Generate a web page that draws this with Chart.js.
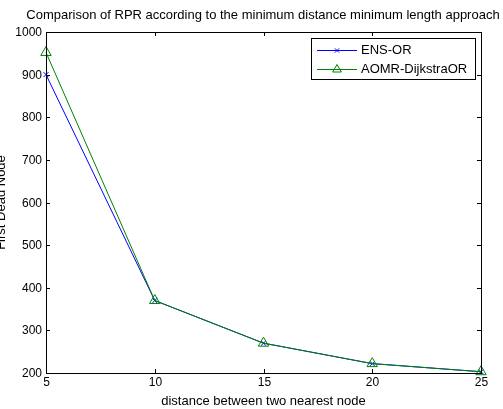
<!DOCTYPE html>
<html lang="en">
<head>
    <meta charset="UTF-8">
    <title>Comparison of RPR</title>
    <script src="https://cdn.jsdelivr.net/npm/chart.js"></script>
    <style>
        html, body { margin: 0; padding: 0; background: #fff; }
        #wrap { position: relative; width: 503px; height: 409px; }
    </style>
</head>
<body>
    <div id="wrap"><canvas id="chart" width="503" height="409"></canvas></div>

    <script>
        // data
        const distances = [5, 10, 15, 20, 25];
        const ensOr = [900, 370, 270, 222, 203];
        const aomrDijkstraOr = [952, 370, 270, 222, 203];
        const xTicks = [5, 10, 15, 20, 25];
        const yTicks = [200, 300, 400, 500, 600, 700, 800, 900, 1000];

        const titleText = 'Comparison of RPR according to the minimum distance minimum length approach';
        const xLabel = 'distance between two nearest node';
        const yLabel = 'First Dead Node';
        const FONT = '"Liberation Sans", Arial, sans-serif';

        // axes box, ticks, labels and legend drawn like the matlab figure
        const matlabAxes = {
            id: 'matlabAxes',
            afterDatasetsDraw(chart) {
                const ctx = chart.ctx;
                const area = chart.chartArea;
                const xs = chart.scales.x, ys = chart.scales.y;
                const tl = 4;
                ctx.save();
                ctx.strokeStyle = '#000';
                ctx.lineWidth = 1;
                ctx.fillStyle = '#000';

                // box
                ctx.strokeRect(Math.round(area.left) + 0.5, Math.round(area.top) + 0.5,
                    Math.round(area.right - area.left), Math.round(area.bottom - area.top));

                // x ticks + labels
                ctx.font = '12px ' + FONT;
                ctx.textAlign = 'center';
                ctx.textBaseline = 'middle';
                xTicks.forEach(v => {
                    const px = Math.round(xs.getPixelForValue(v)) + 0.5;
                    ctx.beginPath();
                    ctx.moveTo(px, area.bottom); ctx.lineTo(px, area.bottom - tl);
                    ctx.moveTo(px, area.top); ctx.lineTo(px, area.top + tl);
                    ctx.stroke();
                    ctx.fillText(String(v), px, area.bottom + 10);
                });

                // y ticks + labels
                ctx.textAlign = 'right';
                yTicks.forEach(v => {
                    const py = Math.round(ys.getPixelForValue(v)) + 0.5;
                    ctx.beginPath();
                    ctx.moveTo(area.left, py); ctx.lineTo(area.left + tl, py);
                    ctx.moveTo(area.right, py); ctx.lineTo(area.right - tl, py);
                    ctx.stroke();
                    ctx.fillText(String(v), area.left - 4, py);
                });

                // title and axis labels
                ctx.textAlign = 'center';
                ctx.font = '13px ' + FONT;
                ctx.fillText(titleText, 263, 15);
                ctx.fillText(xLabel, (area.left + area.right) / 2, 401);
                ctx.save();
                ctx.translate(4.5, (area.top + area.bottom) / 2);
                ctx.rotate(-Math.PI / 2);
                ctx.textBaseline = 'alphabetic';
                ctx.fillText(yLabel, 0, 0);
                ctx.restore();

                // legend
                const lx = 311, ly = 38, lw = 164, lh = 41;
                ctx.fillStyle = '#fff';
                ctx.fillRect(lx, ly, lw, lh);
                ctx.strokeRect(lx + 0.5, ly + 0.5, lw, lh);
                const rows = [50.5, 69.5];
                chart.data.datasets.forEach((ds, i) => {
                    const y = rows[i];
                    ctx.strokeStyle = ds.borderColor;
                    ctx.beginPath();
                    ctx.moveTo(317, y); ctx.lineTo(357, y);
                    ctx.stroke();
                    ctx.fillStyle = 'rgba(0,0,0,0)';
                    Chart.helpers.drawPoint(ctx, {
                        pointStyle: ds.pointStyle,
                        radius: ds.pointStyle === 'triangle' ? 5 : 3,
                        borderWidth: 1
                    }, 337, y);
                    ctx.fillStyle = '#000';
                    ctx.textAlign = 'left';
                    ctx.textBaseline = 'middle';
                    ctx.font = '13px ' + FONT;
                    ctx.fillText(ds.label, 361, y);
                });
                ctx.restore();
            }
        };

        new Chart(document.getElementById('chart').getContext('2d'), {
            type: 'line',
            data: {
                labels: distances,
                datasets: [
                    {
                        label: 'ENS-OR',
                        data: distances.map((d, i) => ({ x: d, y: ensOr[i] })),
                        borderColor: '#0000ff',
                        backgroundColor: 'transparent',
                        borderWidth: 1,
                        pointStyle: 'crossRot',
                        pointRadius: 3.5,
                        pointBorderWidth: 1,
                        order: 1
                    },
                    {
                        label: 'AOMR-DijkstraOR',
                        data: distances.map((d, i) => ({ x: d, y: aomrDijkstraOr[i] })),
                        borderColor: '#008000',
                        backgroundColor: 'transparent',
                        borderWidth: 1,
                        pointStyle: 'triangle',
                        pointRadius: 6,
                        pointBorderWidth: 1,
                        order: 0
                    }
                ]
            },
            options: {
                responsive: false,
                animation: false,
                devicePixelRatio: 1,
                layout: { padding: { left: 46, right: 22, top: 32, bottom: 36 } },
                plugins: { legend: { display: false }, title: { display: false }, tooltip: { enabled: false } },
                elements: { line: { tension: 0 } },
                clip: false,
                scales: {
                    x: { type: 'linear', min: 5, max: 25, display: false },
                    y: { type: 'linear', min: 200, max: 1000, display: false }
                }
            },
            plugins: [matlabAxes]
        });
    </script>
</body>
</html>
